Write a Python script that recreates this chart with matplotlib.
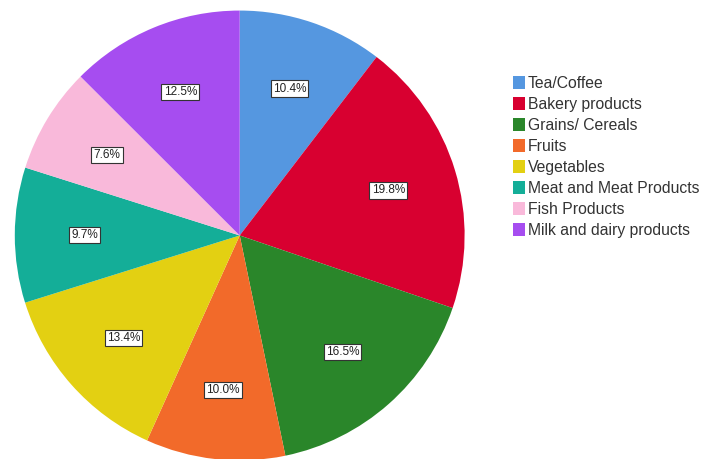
import matplotlib.pyplot as plt

plt.rcParams['font.family'] = ['Liberation Sans', 'DejaVu Sans']

labels = ['Tea/Coffee', 'Bakery products', 'Grains/ Cereals', 'Fruits',
          'Vegetables', 'Meat and Meat Products', 'Fish Products',
          'Milk and dairy products']
shares = [10.4, 19.8, 16.5, 10.0, 13.4, 9.7, 7.6, 12.5]
colors = ['#5597E0', '#D80030', '#2A862A', '#F26A2A',
          '#E3D012', '#14AE98', '#F9B9DA', '#A64DF0']

fig = plt.figure(figsize=(7.04, 4.59), dpi=100)
ax = fig.add_axes([0.021, -0.003, 0.639, 0.980])

wedges, texts, autotexts = ax.pie(
    shares, colors=colors, startangle=90, counterclock=False,
    autopct='%1.1f%%', pctdistance=0.69,
    wedgeprops=dict(linewidth=0),
    textprops=dict(fontsize=8.5, color='#222222'))
for t in autotexts:
    t.set_bbox(dict(boxstyle='square,pad=0.18', facecolor='white',
                    edgecolor='#333333', linewidth=0.8))
ax.set_xlim(-1, 1)
ax.set_ylim(-1, 1)
ax.set_aspect('equal')

fig.legend(wedges, labels, loc='upper left', bbox_to_anchor=(0.72, 0.848),
           frameon=False, fontsize=11.3, handlelength=0.75, handleheight=0.85,
           handletextpad=0.2, labelspacing=0.38, borderaxespad=0,
           labelcolor='#333333')

plt.savefig('out.png', dpi=100)
